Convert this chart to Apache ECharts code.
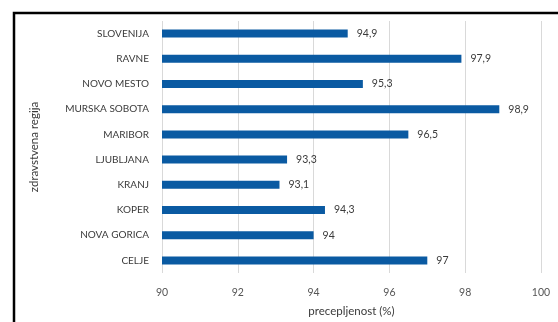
<!DOCTYPE html>
<html>
<head>
<meta charset="utf-8">
<script src="https://cdn.jsdelivr.net/npm/echarts@6/dist/echarts.min.js"></script>
<style>
  html, body { margin: 0; padding: 0; background: #fff; }
  #chart { width: 558px; height: 322px; }
</style>
</head>
<body>
<div id="chart"></div>
<script>
// Health regions, listed bottom to top as they appear on the category axis
const regions = ['CELJE', 'NOVA GORICA', 'KOPER', 'KRANJ', 'LJUBLJANA', 'MARIBOR', 'MURSKA SOBOTA', 'NOVO MESTO', 'RAVNE', 'SLOVENIJA'];
// Vaccination coverage (%) per region
const coverage = [97, 94, 94.3, 93.1, 93.3, 96.5, 98.9, 95.3, 97.9, 94.9];
// Value axis ticks
const xTicks = [90, 92, 94, 96, 98, 100];

const fontFamily = 'Lato, "Open Sans", sans-serif';
const chart = echarts.init(document.getElementById('chart'), null, { renderer: 'canvas' });

chart.setOption({
  animation: false,
  backgroundColor: '#ffffff',
  grid: { left: 162, right: 17, top: 21, bottom: 49, containLabel: false },
  xAxis: {
    type: 'value',
    min: xTicks[0],
    max: xTicks[xTicks.length - 1],
    interval: xTicks[1] - xTicks[0],
    name: 'precepljenost (%)',
    nameLocation: 'middle',
    nameGap: 32,
    nameTextStyle: { color: '#3a3a3a', fontSize: 11.5, fontFamily },
    axisLine: { show: false },
    axisTick: { show: false },
    axisLabel: {
      color: '#555555', fontSize: 10.5, fontFamily, margin: 14,
      formatter: v => String(v)
    },
    splitLine: { show: true, lineStyle: { color: '#d9d9d9', width: 1 } }
  },
  yAxis: {
    type: 'category',
    data: regions,
    name: 'zdravstvena regija',
    nameLocation: 'middle',
    nameRotate: 90,
    nameGap: 122,
    nameTextStyle: { color: '#3a3a3a', fontSize: 11.5, fontFamily },
    axisLine: { show: false },
    axisTick: { show: false },
    axisLabel: { color: '#3a3a3a', fontSize: 10, fontFamily, margin: 13 }
  },
  series: [{
    type: 'bar',
    data: coverage,
    barWidth: 8,
    itemStyle: { color: '#0a5aa2' },
    label: {
      show: true,
      position: 'right',
      distance: 9,
      color: '#3a3a3a',
      fontSize: 10.5,
      fontFamily,
      formatter: p => String(p.value).replace('.', ',')
    }
  }],
  graphic: [{
    type: 'polyline',
    shape: { points: [[14, 322], [14, 13], [558, 13]] },
    style: { stroke: '#000000', lineWidth: 2.5, fill: null }
  }]
});
</script>
</body>
</html>
